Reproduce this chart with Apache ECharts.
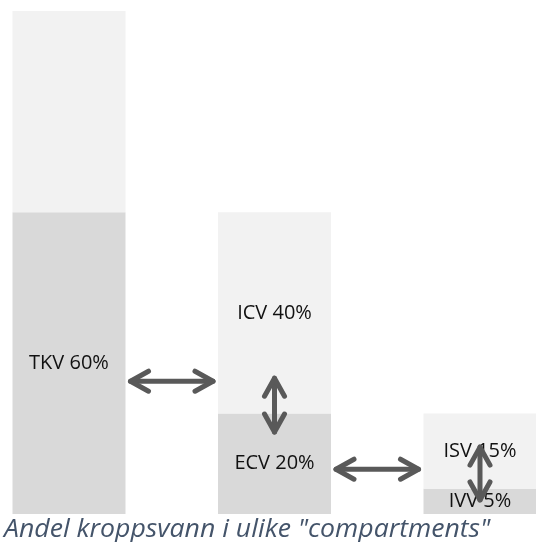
<!DOCTYPE html>
<html>
<head>
<meta charset="utf-8">
<script src="https://cdn.jsdelivr.net/npm/echarts@6/dist/echarts.min.js"></script>
<style>
html,body{margin:0;padding:0;background:#fff;}
#chart{width:536px;height:542px;}
</style>
</head>
<body>
<div id="chart"></div>
<script>
// Data
var categories = ['TKV', 'ECV/ICV', 'IVV/ISV'];
var lowerValues = [60, 20, 5];          // dark segment
var upperValues = [40, 40, 15];         // light segment
var lowerLabels = ['TKV 60%', 'ECV 20%', 'IVV 5%'];
var upperLabels = ['', 'ICV 40%', 'ISV 15%'];
var caption = 'Andel kroppsvann i ulike "compartments"';
// arrows: horizontal between bars (from bar index, to bar index, at value)
var hArrowFrom = [0, 1];
var hArrowTo = [1, 2];
var hArrowAt = [26.4, 8.9];
// vertical arrows inside bars (bar index, top value, bottom value)
var vArrowBar = [1, 2];
var vArrowTop = [27, 13.3];
var vArrowBottom = [16.3, 2.8];

var chart = echarts.init(document.getElementById('chart'));
var BAR_W = 113;
var labelFont = {fontFamily: 'Open Sans', fontSize: 20, color: '#111111'};

chart.setOption({
  animation: false,
  grid: {left: 69, right: 56, top: 11, bottom: 28},
  xAxis: {type: 'category', data: categories, boundaryGap: false, show: false},
  yAxis: {type: 'value', min: 0, max: 100, show: false},
  series: [
    {
      type: 'bar', stack: 'a', barWidth: BAR_W, clip: false,
      data: lowerValues,
      itemStyle: {color: '#d9d9d9'},
      label: Object.assign({show: true, position: 'inside', formatter: function (p) { return lowerLabels[p.dataIndex]; }}, labelFont)
    },
    {
      type: 'bar', stack: 'a', barWidth: BAR_W, clip: false,
      data: upperValues,
      itemStyle: {color: '#f2f2f2'},
      label: Object.assign({show: true, position: 'inside', formatter: function (p) { return upperLabels[p.dataIndex]; }}, labelFont)
    }
  ]
});

function px(i, v) { return chart.convertToPixel({gridIndex: 0}, [i, v]); }
var ARROW = '#595959';
var LW = 5, HEAD_L = 18, HEAD_W = 10, GAP = 5;
var style = {stroke: ARROW, lineWidth: LW, lineCap: 'round', lineJoin: 'round', fill: null};
var g = [];
function arrow(x1, y1, x2, y2) {
  var dx = x2 - x1, dy = y2 - y1, len = Math.sqrt(dx * dx + dy * dy);
  var ux = dx / len, uy = dy / len, nx = -uy, ny = ux;
  g.push({type: 'polyline', shape: {points: [[x1, y1], [x2, y2]]}, style: style, z: 100});
  g.push({type: 'polyline', shape: {points: [[x1 + ux * HEAD_L + nx * HEAD_W, y1 + uy * HEAD_L + ny * HEAD_W], [x1, y1], [x1 + ux * HEAD_L - nx * HEAD_W, y1 + uy * HEAD_L - ny * HEAD_W]]}, style: style, z: 100});
  g.push({type: 'polyline', shape: {points: [[x2 - ux * HEAD_L + nx * HEAD_W, y2 - uy * HEAD_L + ny * HEAD_W], [x2, y2], [x2 - ux * HEAD_L - nx * HEAD_W, y2 - uy * HEAD_L - ny * HEAD_W]]}, style: style, z: 100});
}
for (var i = 0; i < hArrowAt.length; i++) {
  var a = px(hArrowFrom[i], hArrowAt[i]), b = px(hArrowTo[i], hArrowAt[i]);
  arrow(a[0] + BAR_W / 2 + GAP, a[1], b[0] - BAR_W / 2 - GAP, b[1]);
}
for (var j = 0; j < vArrowBar.length; j++) {
  var t = px(vArrowBar[j], vArrowTop[j]), bt = px(vArrowBar[j], vArrowBottom[j]);
  arrow(t[0], t[1], bt[0], bt[1]);
}
g.push({type: 'text', x: 4, y: 530, scaleX: 1.065, style: {text: caption, fontFamily: 'Open Sans', fontStyle: 'italic', fontSize: 25, fill: '#44546a', verticalAlign: 'middle'}, z: 100});
chart.setOption({graphic: g});
</script>
</body>
</html>
